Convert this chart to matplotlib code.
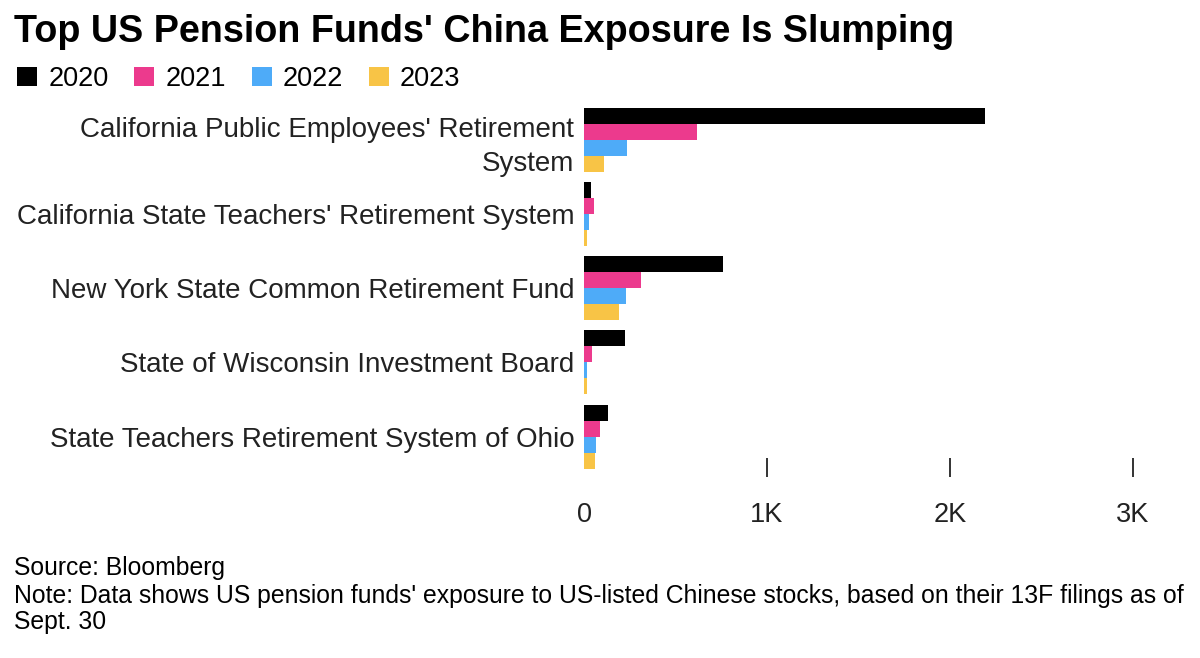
import numpy as np
import matplotlib.pyplot as plt
from matplotlib.patches import Patch

plt.rcParams['font.family'] = ['Liberation Sans', 'DejaVu Sans']

funds = [
    "California Public Employees' Retirement\nSystem",
    "California State Teachers' Retirement System",
    "New York State Common Retirement Fund",
    "State of Wisconsin Investment Board",
    "State Teachers Retirement System of Ohio",
]
years = ['2020', '2021', '2022', '2023']
val_2020 = [2190, 39, 757, 224, 133]
val_2021 = [620, 55, 311, 42, 88]
val_2022 = [233, 29, 229, 18, 68]
val_2023 = [112, 18, 192, 17, 61]
colors = ['#000000', '#ec3a8d', '#4eabf8', '#f8c446']

fig = plt.figure(figsize=(12, 6.58), dpi=100)
ax = fig.add_axes([584/1200, 1 - 477/658, (1133-584)/1200, (477-105)/658])

series = [val_2020, val_2021, val_2022, val_2023]
bh = 0.2155
y = np.arange(len(funds))
for i, (vals, c) in enumerate(zip(series, colors)):
    ax.barh(y + (i - 1.5) * bh, vals, height=bh, color=c, linewidth=0)

ax.set_xlim(0, 3000)
ax.set_ylim(4.545, -0.465)
ax.set_yticks(y)
ax.set_yticklabels(funds, fontsize=20, color='#222222', linespacing=1.4)
ax.tick_params(axis='y', length=0, pad=7)
ax.set_xticks([0, 1000, 2000, 3000])
ax.set_xticklabels(['0', '1K', '2K', '3K'], fontsize=19.5, color='#222222')
ax.tick_params(axis='x', direction='in', length=14, width=1.4, color='#333333', pad=18)
ax.xaxis.get_major_ticks()[0].tick1line.set_visible(False)
for s in ax.spines.values():
    s.set_visible(False)

fig.text(14/1200, 1 - 32/658, "Top US Pension Funds' China Exposure Is Slumping",
         fontsize=27.2, fontweight='bold', va='center', ha='left')

handles = [Patch(facecolor=c, edgecolor='none') for c in colors]
fig.legend(handles, years, loc='center left', bbox_to_anchor=(17/1200, 1 - 79/658),
           ncol=4, frameon=False, fontsize=19.5, handlelength=0.75, handleheight=0.75,
           handletextpad=0.4, columnspacing=0.95, borderaxespad=0, borderpad=0)

fig.text(14/1200, 1 - 568/658, "Source: Bloomberg", fontsize=17.8, va='center', ha='left')
fig.text(14/1200, 1 - 584/658,
         "Note: Data shows US pension funds' exposure to US-listed Chinese stocks, based on their 13F filings as of\nSept. 30",
         fontsize=17.8, va='top', ha='left', linespacing=1.12)

fig.savefig('out.png', dpi=100)
